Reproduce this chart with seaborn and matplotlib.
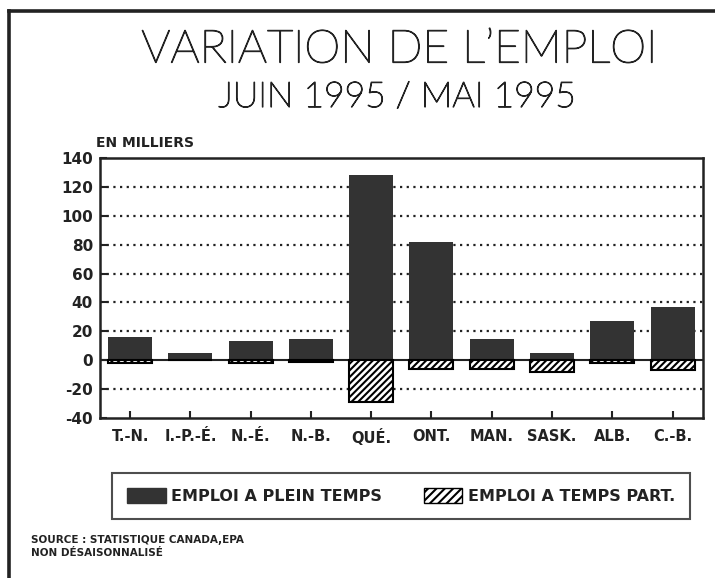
import matplotlib
matplotlib.use("Agg")
import matplotlib.pyplot as plt
import matplotlib.patheffects as pe
import seaborn as sns
import pandas as pd
from matplotlib.patches import Patch
from matplotlib.lines import Line2D

categories = ["T.-N.", "I.-P.-É.", "N.-É.", "N.-B.", "QUÉ.", "ONT.", "MAN.", "SASK.", "ALB.", "C.-B."]
plein_temps = [16, 5, 13, 15, 128, 82, 15, 5, 27, 37]
temps_partiel = [-2, 0, -2, -1, -29, -6, -6, -8, -2, -7]
yticks = [-40, -20, 0, 20, 40, 60, 80, 100, 120, 140]

sns.set_theme(style="white")
plt.rcParams['font.family'] = ['DejaVu Sans']
plt.rcParams['hatch.linewidth'] = 1.5

ink = "#222222"
dark = "#333333"

df = pd.DataFrame({"province": categories, "plein": plein_temps, "partiel": temps_partiel})

fig = plt.figure(figsize=(7.15, 5.78), dpi=100)
ax = fig.add_axes([100/715, 1-418/578, (702.7-100)/715, (418-158)/578])

sns.barplot(data=df, x="province", y="plein", color=dark, saturation=1, width=0.73,
            linewidth=0, ax=ax, zorder=3)
sns.barplot(data=df, x="province", y="partiel", color="white", saturation=1, width=0.73,
            edgecolor="black", linewidth=1.5, hatch="/////", ax=ax, zorder=3)

ax.set_xlim(-0.5, len(categories) - 0.5)
ax.set_ylim(-40, 140)
ax.set_yticks(yticks)
ax.set_yticklabels([str(v) for v in yticks], fontsize=11, fontweight="bold")
ax.set_xticks(range(len(categories)))
ax.set_xticklabels(categories, fontsize=10.5, fontweight="bold")
ax.set_xlabel("")
ax.set_ylabel("")
ax.tick_params(axis="both", direction="in", length=5, width=1.5, colors=ink,
               labelcolor=ink)
ax.tick_params(axis="y", left=True, pad=5)
ax.tick_params(axis="x", bottom=True, pad=8)

for v in yticks:
    if v in (-40, 140):
        continue
    if v == 0:
        ax.axhline(0, color=ink, lw=1.5, zorder=2)
    else:
        ax.axhline(v, color=ink, lw=1.6, linestyle=(0, (1, 2)), zorder=1)

for s in ax.spines.values():
    s.set_color(ink)
    s.set_linewidth(1.8)
    s.set_visible(True)

thick = [pe.withStroke(linewidth=0.9, foreground=ink)]
fig.text(400/715, 1-50/578, "VARIATION DE L\u2019EMPLOI", ha="center", va="center",
         fontsize=33, family=["Lato", "Open Sans", "DejaVu Sans"], fontweight="light",
         color=ink, path_effects=thick)
fig.text(397/715, 1-97/578, "JUIN 1995 / MAI 1995", ha="center", va="center",
         fontsize=25.5, family=["Lato", "Open Sans", "DejaVu Sans"], fontweight="light",
         color=ink, path_effects=thick)
fig.text(96/715, 1-143/578, "EN MILLIERS", ha="left", va="center",
         fontsize=10, fontweight="bold", color=ink)

handles = [Patch(facecolor=dark, edgecolor=dark, label="EMPLOI A PLEIN TEMPS"),
           Patch(facecolor="white", edgecolor="black", hatch="////", label="EMPLOI A TEMPS PART.")]
leg = fig.legend(handles=handles, loc="center", bbox_to_anchor=(401/715, 1-496/578),
                 ncol=2, frameon=True, fancybox=False, prop={"weight": "bold", "size": 11.5},
                 handlelength=2.4, handleheight=1.1, columnspacing=2.6, borderpad=0.95,
                 borderaxespad=0, handletextpad=0.35, edgecolor=ink)
leg.get_frame().set_linewidth(1.5)
for t in leg.get_texts():
    t.set_color(ink)

fig.text(31/715, 1-540/578, "SOURCE : STATISTIQUE CANADA,EPA", ha="left", va="center",
         fontsize=7.5, fontweight="bold", color=ink)
fig.text(31/715, 1-553/578, "NON DÉSAISONNALISÉ", ha="left", va="center",
         fontsize=7.5, fontweight="bold", color=ink)

fig.add_artist(Line2D([9/715, 9/715], [0, 1-11/578], transform=fig.transFigure, color=ink,
                      lw=2.6, solid_capstyle="projecting"))
fig.add_artist(Line2D([9/715, 1], [1-11/578, 1-11/578], transform=fig.transFigure, color=ink,
                      lw=2.6, solid_capstyle="projecting"))

fig.savefig("out.png", dpi=100)
